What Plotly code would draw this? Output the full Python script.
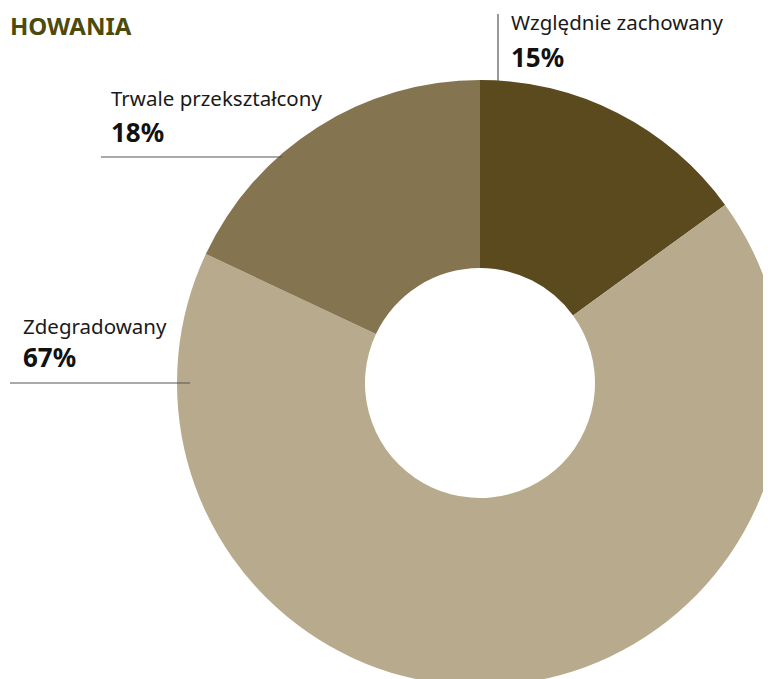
import plotly.graph_objects as go

# Strona HTML ma margines 8 px, więc figura zaczyna się od (8, 8) na ekranie
OFF = 8
W, H = 776, 680

# Dane
labels = ["Względnie zachowany", "Zdegradowany", "Trwale przekształcony"]
values = [15, 67, 18]
colors = ["#5c4a1f", "#b8ab8d", "#857450"]

# Geometria pierścienia (piksele ekranu)
cx, cy, r = 480, 383, 303


def px(x):
    return (x - OFF) / W


def py(y):
    return 1 - (y - OFF) / H


fig = go.Figure(go.Pie(
    labels=labels,
    values=values,
    marker=dict(colors=colors, line=dict(width=0)),
    sort=False,
    direction="clockwise",
    rotation=0,
    hole=115 / r,
    textinfo="none",
    hovertemplate="%{label}: %{value}%<extra></extra>",
    showlegend=False,
    domain=dict(x=[px(cx - r), px(cx + r)], y=[py(cy + r), py(cy - r)]),
))

font = "Noto Sans, Open Sans, sans-serif"

# Etykiety: (x, y nazwy, y procentu) w pikselach ekranu
label_pos = {
    "Względnie zachowany": (509, 22, 57),
    "Trwale przekształcony": (109, 98, 132),
    "Zdegradowany": (21, 326, 357),
}

annotations = [dict(
    text="<b>HOWANIA</b>", x=px(OFF), y=py(25), xref="paper", yref="paper",
    xanchor="left", yanchor="middle", showarrow=False,
    font=dict(family=font, size=24, color="#4d4a0c"),
)]
for name, val in zip(labels, values):
    x, y1, y2 = label_pos[name]
    annotations.append(dict(
        text=name, x=px(x), y=py(y1), xref="paper", yref="paper",
        xanchor="left", yanchor="middle", showarrow=False,
        font=dict(family=font, size=20.5, color="#1a1a1a"),
    ))
    annotations.append(dict(
        text=f"<b>{val}%</b>", x=px(x), y=py(y2), xref="paper", yref="paper",
        xanchor="left", yanchor="middle", showarrow=False,
        font=dict(family=font, size=26, color="#111111"),
    ))

# Linie odniesienia
line_style = dict(color="#555555", width=1.2)
shapes = [
    dict(type="line", xref="paper", yref="paper",
         x0=px(498), x1=px(498), y0=py(14), y1=py(81), line=line_style),
    dict(type="line", xref="paper", yref="paper",
         x0=px(101), x1=px(282), y0=py(157), y1=py(157), line=line_style),
    dict(type="line", xref="paper", yref="paper",
         x0=px(10), x1=px(190), y0=py(383), y1=py(383), line=line_style),
]

fig.update_layout(
    width=W, height=H,
    margin=dict(l=0, r=0, t=0, b=0),
    paper_bgcolor="white",
    plot_bgcolor="white",
    annotations=annotations,
    shapes=shapes,
)

fig.write_html("out.html")
